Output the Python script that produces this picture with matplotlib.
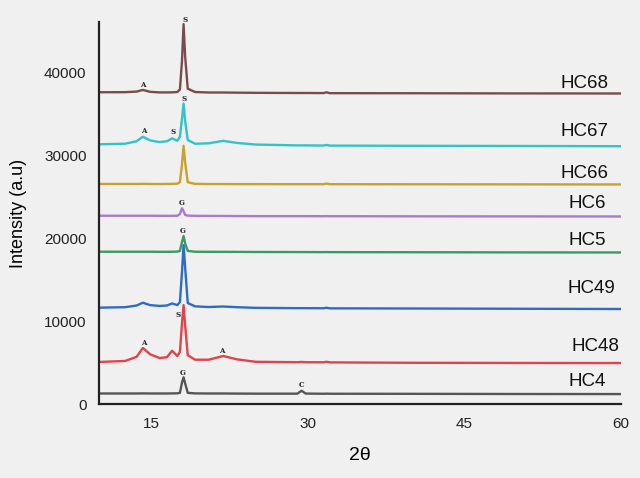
#!/usr/bin/env python3
"""Stacked XRD patterns (intensity vs 2θ) for the HC samples."""

import matplotlib

matplotlib.use("Agg")
import matplotlib.pyplot as plt

plt.rcParams["font.family"] = ["Liberation Sans", "DejaVu Sans"]

# common 2θ grid of read-off points
two_theta = [10, 12.5, 13.6, 14.2, 14.9, 15.8, 16.5, 17.0, 17.5, 17.75, 17.95,
             18.1, 18.25, 18.5, 19.2, 20.5, 21.9, 23.2, 25, 29.0, 29.4, 29.8,
             31.5, 31.8, 32.1, 40, 50, 60]

hc68 = [37670, 37680, 37750, 37950, 37720, 37650, 37650, 37660, 37700, 38000,
        41500, 45900, 42000, 38100, 37700, 37640, 37640, 37620, 37600, 37580,
        37580, 37580, 37570, 37660, 37560, 37550, 37530, 37520]
hc67 = [31380, 31450, 31750, 32300, 31850, 31650, 31750, 32100, 31800, 32300,
        34500, 36300, 34200, 31900, 31450, 31500, 31800, 31550, 31350, 31250,
        31250, 31250, 31230, 31300, 31220, 31200, 31180, 31150]
hc66 = [26590, 26590, 26590, 26600, 26590, 26580, 26590, 26600, 26620, 26800,
        29000, 31200, 29200, 26800, 26600, 26580, 26580, 26570, 26570, 26560,
        26560, 26560, 26560, 26640, 26560, 26550, 26540, 26530]
hc6 = [22750, 22750, 22750, 22750, 22750, 22740, 22740, 22740, 22750, 22950,
       23650, 23300, 22850, 22760, 22740, 22730, 22720, 22710, 22700, 22700,
       22700, 22700, 22690, 22700, 22690, 22680, 22670, 22660]
hc5 = [18400, 18400, 18400, 18400, 18400, 18390, 18390, 18400, 18420, 18500,
       19600, 20300, 19400, 18500, 18400, 18390, 18390, 18380, 18370, 18360,
       18360, 18360, 18350, 18360, 18350, 18340, 18320, 18310]
hc49 = [11640, 11700, 11900, 12240, 11950, 11850, 11900, 12150, 11950, 12300,
        16000, 19200, 16500, 12200, 11800, 11720, 11780, 11700, 11620, 11580,
        11580, 11580, 11570, 11630, 11560, 11540, 11510, 11480]
hc48 = [5080, 5200, 5700, 6770, 6000, 5560, 5650, 6440, 5800, 6300,
        9800, 11950, 9500, 5900, 5350, 5350, 5800, 5400, 5100, 5050,
        5080, 5050, 5040, 5100, 5030, 4980, 4960, 4950]
hc4 = [1270, 1270, 1270, 1280, 1270, 1270, 1270, 1280, 1290, 1350,
       2600, 3230, 2500, 1350, 1280, 1270, 1270, 1260, 1250, 1250,
       1600, 1260, 1240, 1250, 1240, 1230, 1210, 1200]

samples = ["HC68", "HC67", "HC66", "HC6", "HC5", "HC49", "HC48", "HC4"]
patterns = [hc68, hc67, hc66, hc6, hc5, hc49, hc48, hc4]
colors = ["#7a4b4b", "#33c3c6", "#caa02e", "#a87ad0",
          "#3a9a62", "#2e6cc4", "#e0434b", "#555555"]

# sample name positions (2θ, intensity)
name_x = [58.85, 58.85, 58.85, 58.56, 58.56, 59.42, 59.8, 58.56]
name_y = [38750, 32950, 27850, 24250, 19800, 13950, 6900, 2750]

# phase marks: letter, 2θ, intensity
phase_letters = ["S", "A", "S", "A", "S", "G", "G", "S", "A", "A", "G", "C"]
phase_x = [18.2, 14.15, 18.14, 14.3, 17.1, 17.95, 18.05, 17.55, 14.3, 21.75,
           18.05, 29.4]
phase_y = [46400, 38550, 36860, 32990, 32870, 24290, 20900, 10760, 7410, 6400,
           3780, 2300]

fig = plt.figure(figsize=(6.4, 4.78), dpi=100, facecolor="#f0f0f0")
ax = fig.add_axes([0.1547, 0.1548, 0.8156, 0.7992])
ax.set_facecolor("#f0f0f0")

for name, pat, col in zip(samples, patterns, colors):
    ax.plot(two_theta, pat, color=col, lw=1.7, solid_joinstyle="round")

for name, x, y in zip(samples, name_x, name_y):
    ax.text(x, y, name, ha="right", va="center", fontsize=13.5, color="#111111")

for letter, x, y in zip(phase_letters, phase_x, phase_y):
    ax.text(x, y, letter, ha="center", va="center", fontsize=5,
            family="DejaVu Serif", fontweight="bold", color="#222222",
            clip_on=False)

ax.set_xlim(10, 60)
ax.set_ylim(0, 46160)
ax.set_xticks([15, 30, 45, 60])
ax.set_yticks([0, 10000, 20000, 30000, 40000])
ax.tick_params(length=0, labelsize=11, colors="#222222", pad=9)
for side in ("top", "right"):
    ax.spines[side].set_visible(False)
for side in ("left", "bottom"):
    ax.spines[side].set_linewidth(1.6)
    ax.spines[side].set_color("#222222")

ax.set_xlabel("2θ", fontsize=14, labelpad=12)
ax.set_ylabel("Intensity (a.u)", fontsize=13, labelpad=12)

fig.savefig("out.png", dpi=100, facecolor=fig.get_facecolor())
